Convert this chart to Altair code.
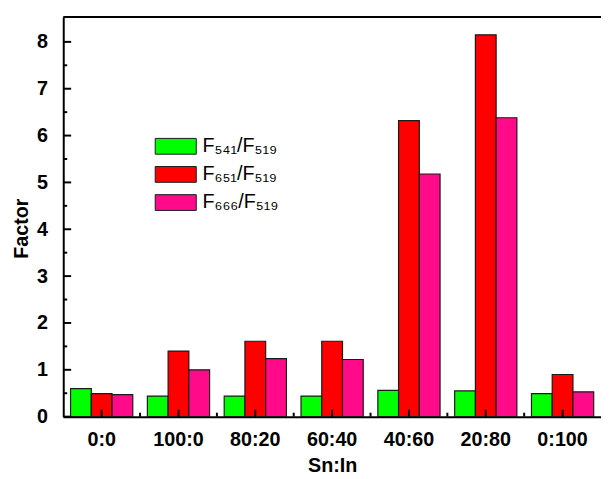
import altair as alt
import pandas as pd

categories = ["0:0", "100:0", "80:20", "60:40", "40:60", "20:80", "0:100"]
series = ["F₅₄₁/F₅₁₉", "F₆₅₁/F₅₁₉", "F₆₆₆/F₅₁₉"]
f541 = [0.60, 0.44, 0.44, 0.44, 0.56, 0.55, 0.49]
f651 = [0.49, 1.40, 1.61, 1.61, 6.32, 8.15, 0.90]
f666 = [0.47, 1.00, 1.24, 1.22, 5.18, 6.38, 0.53]
colors = ["#00FF00", "#FF0000", "#FF0A88"]
y_labels = [0, 1, 2, 3, 4, 5, 6, 7, 8]
y_minor = [0.5, 1.5, 2.5, 3.5, 4.5, 5.5, 6.5, 7.5]

rows = []
for s, vals in zip(series, [f541, f651, f666]):
    for c, v in zip(categories, vals):
        rows.append({"cat": c, "series": s, "value": v})
df = pd.DataFrame(rows)

W, H = 545, 405
YMAX = 8.53
FONT = "Liberation Sans"
GAP_HALF = W / 7 * 0.19 / 2

xscale = alt.Scale(domain=categories, paddingInner=0.19, paddingOuter=0.095)
yscale = alt.Scale(domain=[0, YMAX], nice=False, zero=True)

bars = alt.Chart(df).mark_bar(stroke="#1a1a1a", strokeWidth=1.2).encode(
    x=alt.X("cat:N", scale=xscale, title="Sn:In",
            axis=alt.Axis(ticks=False, grid=False, domainWidth=2, domainColor="black",
                          labelFont=FONT, labelFontSize=20, labelFontWeight="bold",
                          labelColor="black", labelPadding=13, labelAngle=0,
                          titleFont=FONT, titleFontSize=20, titleFontWeight="bold",
                          titleColor="black", titlePadding=7)),
    xOffset=alt.XOffset("series:N", sort=series,
                        scale=alt.Scale(domain=series, paddingInner=0, paddingOuter=0)),
    y=alt.Y("value:Q", scale=yscale, title="Factor",
            axis=alt.Axis(values=y_labels, ticks=False, grid=False, domainWidth=2,
                          domainColor="black", labelFont=FONT, labelFontSize=20,
                          labelFontWeight="bold", labelColor="black", labelPadding=16,
                          titleFont=FONT, titleFontSize=20, titleFontWeight="bold",
                          titleColor="black", titlePadding=5, titleY=214)),
    color=alt.Color("series:N", sort=series,
                    scale=alt.Scale(domain=series, range=colors),
                    legend=alt.Legend(title=None, orient="none", legendX=104, legendY=121,
                                      symbolType="M-2.6,-1H2.6V1H-2.6Z", symbolSize=256,
                                      symbolStrokeColor="#1a1a1a", symbolStrokeWidth=1,
                                      symbolOpacity=1, labelFont=FONT, labelFontSize=20,
                                      labelColor="black", labelOffset=17, rowPadding=8.5,
                                      padding=0)),
)

ymaj = alt.Chart(pd.DataFrame({"value": y_labels})).mark_rule(color="black", strokeWidth=2).encode(
    y=alt.Y("value:Q", scale=yscale), x=alt.value(0), x2=alt.value(8))
ymin = alt.Chart(pd.DataFrame({"value": y_minor})).mark_rule(color="black", strokeWidth=2).encode(
    y=alt.Y("value:Q", scale=yscale), x=alt.value(0), x2=alt.value(4))
xmaj = alt.Chart(pd.DataFrame({"cat": categories})).mark_rule(color="black", strokeWidth=2).encode(
    x=alt.X("cat:N", scale=xscale), y=alt.value(H), y2=alt.value(H - 7))
xmin = alt.Chart(pd.DataFrame({"cat": categories[:-1]})).mark_rule(
    color="black", strokeWidth=2, xOffset=GAP_HALF).encode(
    x=alt.X("cat:N", scale=xscale, bandPosition=1), y=alt.value(H), y2=alt.value(H - 4))
top = alt.Chart(pd.DataFrame({"a": [0]})).mark_rule(color="black", strokeWidth=2).encode(
    x=alt.value(0), x2=alt.value(W), y=alt.value(0))

chart = alt.layer(bars, ymaj, ymin, xmaj, xmin, top).properties(
    width=W, height=H,
    autosize=alt.AutoSizeParams(type="none"),
    padding={"left": 56, "top": 6, "right": 0, "bottom": 58},
    background="white",
).configure_view(stroke=None)

chart.save("out.html", embed_options={"renderer": "svg", "actions": False})
